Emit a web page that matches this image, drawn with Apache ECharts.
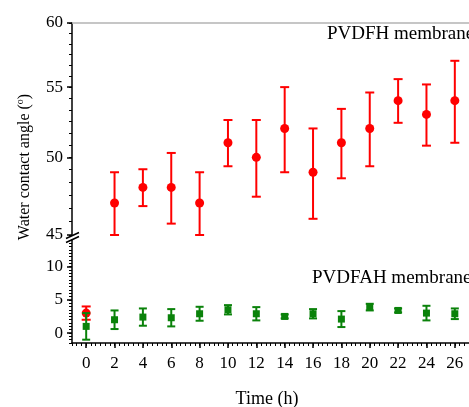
<!DOCTYPE html>
<html>
<head>
<meta charset="utf-8">
<script src="https://cdn.jsdelivr.net/npm/echarts@6/dist/echarts.min.js"></script>
<style>
  html, body { margin: 0; padding: 0; background: #fff; }
  #chart { width: 469px; height: 407px; }
</style>
</head>
<body>
<div id="chart"></div>
<script>
// 数据：时间与接触角（均值 ± 误差）
const times = [0, 2, 4, 6, 8, 10, 12, 14, 16, 18, 20, 22, 24, 26]
const pvdfhAngle = [3, 47, 48, 48, 47, 51, 50, 52, 49, 51, 52, 54, 53, 54]
const pvdfhError = [1, 2, 1.2, 2.3, 2, 1.6, 2.6, 3, 3, 2.4, 2.6, 1.6, 2.2, 3]
const pvdfahAngle = [1, 2, 2.4, 2.3, 2.9, 3.5, 2.9, 2.5, 2.9, 2.1, 3.9, 3.4, 3.0, 2.9]
const pvdfahError = [2, 1.4, 1.3, 1.3, 1.05, 0.7, 1, 0.3, 0.7, 1.2, 0.5, 0.3, 1.1, 0.8]
const upperTicks = [45, 50, 55, 60]
const lowerTicks = [0, 5, 10]

const BREAK_AT = 45
const lg = Math.log10
const font = '"Liberation Serif", "Times New Roman", serif'

// 把数据拆到上下两段（上段为对数刻度）
const splitData = (angles, errors) => {
  const upper = []
  const lower = []
  times.forEach((t, i) => {
    const v = angles[i]
    const e = errors[i]
    if (v >= BREAK_AT) upper.push([t, lg(v), lg(v - e), lg(v + e)])
    else lower.push([t, v, v - e, v + e])
  })
  return { upper, lower }
}

const red = splitData(pvdfhAngle, pvdfhError)
const green = splitData(pvdfahAngle, pvdfahError)

const errorBar = (color, cap) => (params, api) => {
  const x = api.value(0)
  const lo = api.coord([x, api.value(2)])
  const hi = api.coord([x, api.value(3)])
  const style = { stroke: color, lineWidth: 2 }
  return {
    type: 'group',
    children: [
      { type: 'line', shape: { x1: lo[0], y1: lo[1], x2: hi[0], y2: hi[1] }, style },
      { type: 'line', shape: { x1: lo[0] - cap, y1: lo[1], x2: lo[0] + cap, y2: lo[1] }, style },
      { type: 'line', shape: { x1: hi[0] - cap, y1: hi[1], x2: hi[0] + cap, y2: hi[1] }, style }
    ]
  }
}

const upperMinor = []
for (let k = 0; k <= 18; k++) upperMinor.push(lg(45 + k * 5 / 6))
const lowerMinor = []
for (let v = -1.5; v <= 14; v += 0.5) lowerMinor.push(v)
const xMinor = []
for (let k = 0; k <= 84; k++) xMinor.push(-1 + k / 3)

const labelStyle = { fontFamily: font, fontSize: 17, color: '#000' }
const axisLine = { show: true, onZero: false, lineStyle: { color: '#000', width: 1.5 } }
const noLine = { show: false, onZero: false }

const chart = echarts.init(document.getElementById('chart'))

const makeSeries = (data, grid, color, symbol, size, cap, z) => ([
  {
    type: 'custom',
    xAxisIndex: grid === 0 ? 0 : 1,
    yAxisIndex: grid === 0 ? 0 : 2,
    data,
    encode: { x: 0, y: [1, 2, 3] },
    renderItem: errorBar(color, cap),
    z,
    silent: true
  },
  {
    type: 'scatter',
    xAxisIndex: grid === 0 ? 0 : 1,
    yAxisIndex: grid === 0 ? 0 : 2,
    data: data.map(d => [d[0], d[1]]),
    symbol,
    symbolSize: size,
    itemStyle: { color, opacity: 1 },
    z: z + 1,
    silent: true
  }
])

const option = {
  animation: false,
  grid: [
    { left: 72, top: 23, width: 406, height: 212 },
    { left: 72, top: 240, width: 406, height: 103 }
  ],
  xAxis: [
    {
      gridIndex: 0, type: 'value', position: 'top', min: -1, max: 27,
      axisLine: { show: true, onZero: false, lineStyle: { color: '#b4b4b4', width: 1.5 } },
      axisTick: { show: false }, axisLabel: { show: false }, splitLine: { show: false }
    },
    {
      gridIndex: 1, type: 'value', position: 'bottom', min: -1, max: 27,
      axisLine,
      axisTick: { show: true, length: 5, customValues: times, lineStyle: { color: '#000', width: 1.5 } },
      axisLabel: { ...labelStyle, margin: 12, customValues: times },
      splitLine: { show: false }
    },
    {
      gridIndex: 1, type: 'value', position: 'bottom', min: -1, max: 27,
      axisLine: noLine,
      axisTick: { show: true, length: 3, customValues: xMinor, lineStyle: { color: '#000', width: 1 } },
      axisLabel: { show: false }, splitLine: { show: false }
    }
  ],
  yAxis: [
    {
      gridIndex: 0, type: 'value', position: 'left', min: lg(45), max: lg(60),
      axisLine,
      axisTick: { show: true, length: 5, customValues: upperTicks.map(lg), lineStyle: { color: '#000', width: 1.5 } },
      axisLabel: {
        ...labelStyle, margin: 9, customValues: upperTicks.map(lg),
        formatter: v => String(Math.round(Math.pow(10, v)))
      },
      splitLine: { show: false }
    },
    {
      gridIndex: 0, type: 'value', position: 'left', min: lg(45), max: lg(60),
      axisLine: noLine,
      axisTick: { show: true, length: 3, customValues: upperMinor, lineStyle: { color: '#000', width: 1 } },
      axisLabel: { show: false }, splitLine: { show: false }
    },
    {
      gridIndex: 1, type: 'value', position: 'left', min: -1.5, max: 14,
      axisLine,
      axisTick: { show: true, length: 5, customValues: lowerTicks, lineStyle: { color: '#000', width: 1.5 } },
      axisLabel: { ...labelStyle, margin: 9, customValues: lowerTicks },
      splitLine: { show: false }
    },
    {
      gridIndex: 1, type: 'value', position: 'left', min: -1.5, max: 14,
      axisLine: noLine,
      axisTick: { show: true, length: 3, customValues: lowerMinor, lineStyle: { color: '#000', width: 1 } },
      axisLabel: { show: false }, splitLine: { show: false }
    }
  ],
  series: [
    ...makeSeries(red.upper, 0, '#ff0000', 'circle', 9, 4.5, 2),
    ...makeSeries(red.lower, 1, '#ff0000', 'circle', 9, 4.5, 2),
    ...makeSeries(green.lower, 1, '#0a820a', 'rect', 7, 4, 4)
  ],
  graphic: [
    // 断轴标记
    { type: 'line', shape: { x1: 66, y1: 238.5, x2: 79, y2: 232.5 }, style: { stroke: '#000', lineWidth: 1.5 }, z: 100 },
    { type: 'line', shape: { x1: 66, y1: 242.5, x2: 79, y2: 236.5 }, style: { stroke: '#000', lineWidth: 1.5 }, z: 100 },
    {
      type: 'text', x: 327, y: 34,
      style: { text: 'PVDFH membrane', font: '19px ' + font, fill: '#000', textVerticalAlign: 'middle' }
    },
    {
      type: 'text', x: 312, y: 278,
      style: { text: 'PVDFAH membrane', font: '19px ' + font, fill: '#000', textVerticalAlign: 'middle' }
    },
    {
      type: 'text', x: 267, y: 399,
      style: { text: 'Time (h)', font: '18px ' + font, fill: '#000', textAlign: 'center', textVerticalAlign: 'middle' }
    },
    {
      type: 'text', x: 25, y: 167, rotation: Math.PI / 2,
      style: {
        text: 'Water contact angle ({sup|o})',
        font: '16px ' + font, fill: '#000',
        textAlign: 'center', textVerticalAlign: 'middle',
        rich: { sup: { fontFamily: font, fontSize: 10, padding: [0, 0, 9, 0] } }
      }
    }
  ]
}

chart.setOption(option)
</script>
</body>
</html>
